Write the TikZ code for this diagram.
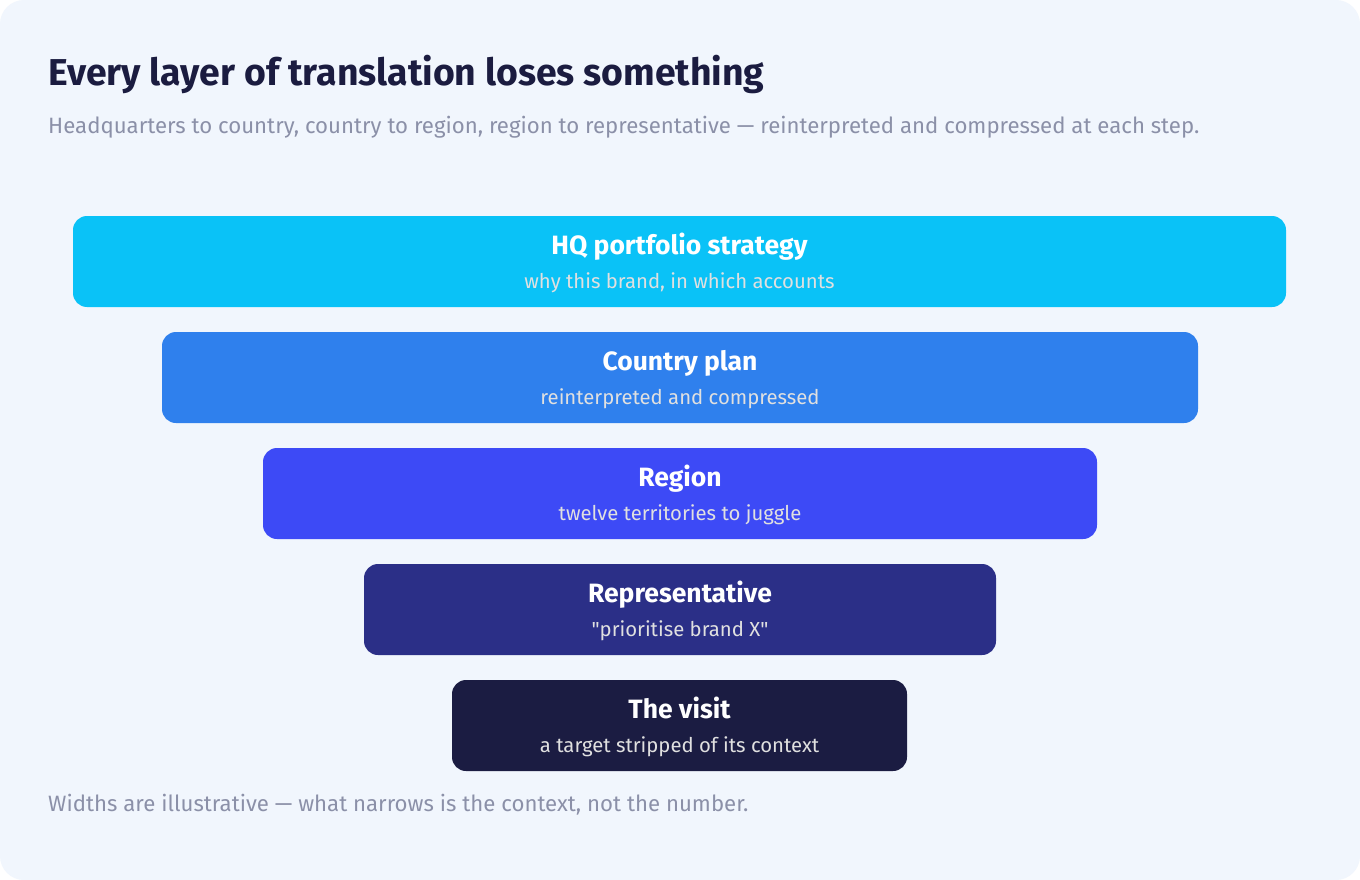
\documentclass[tikz,border=0pt]{standalone}
\usepackage{fontspec}
\setmainfont{Fira Sans}[Ligatures=TeXOff]
\usetikzlibrary{positioning}

\definecolor{pagebg}{HTML}{F1F6FD}
\definecolor{inkdark}{HTML}{1B1C40}
\definecolor{inkgray}{HTML}{8B90A8}
\definecolor{hqcol}{HTML}{0AC2F7}
\definecolor{countrycol}{HTML}{2F80ED}
\definecolor{regioncol}{HTML}{3D4AF6}
\definecolor{repcol}{HTML}{2B2F87}
\definecolor{visitcol}{HTML}{1B1C42}

\tikzset{
  layer/.style={rounded corners=14pt, minimum height=91pt, inner sep=0pt},
  layertitle/.style={anchor=base, text=white, font=\bfseries\fontsize{26.5}{30}\selectfont, inner sep=0pt},
  layersub/.style={anchor=base, text=white!88!black, font=\fontsize{20.3}{24}\selectfont, inner sep=0pt},
}

\begin{document}
\begin{tikzpicture}[x=1pt,y=-1pt]

% Background card
\fill[white] (0,0) rectangle (1360,880);
\fill[pagebg, rounded corners=24pt] (0,0) rectangle (1360,880);
\useasboundingbox (0,0) rectangle (1360,880);

% Heading
\node[anchor=base west, inner sep=0pt, text=inkdark, font=\bfseries\fontsize{37.4}{44}\selectfont] (title) at (48,86) {Every layer of translation loses something};
\node[anchor=base west, inner sep=0pt, text=inkgray, font=\fontsize{22.2}{26}\selectfont] (subtitle) at (48,134) {Headquarters to country, country to region, region to representative — reinterpreted and compressed at each step.};

% HQ layer
\node[layer, fill=hqcol, minimum width=1213pt] (hq) at (679.5,261.5) {};
\node[layertitle] (hqname) at ([yshift=7pt]hq.center) {HQ portfolio strategy};
\node[layersub] (hqnote) at ([yshift=-27pt]hq.center) {why this brand, in which accounts};

% Country layer
\node[layer, fill=countrycol, minimum width=1036pt] (country) at (680,377.5) {};
\node[layertitle] (countryname) at ([yshift=7pt]country.center) {Country plan};
\node[layersub] (countrynote) at ([yshift=-27pt]country.center) {reinterpreted and compressed};

% Region layer
\node[layer, fill=regioncol, minimum width=834pt] (region) at (680,493.5) {};
\node[layertitle] (regionname) at ([yshift=7pt]region.center) {Region};
\node[layersub] (regionnote) at ([yshift=-27pt]region.center) {twelve territories to juggle};

% Representative layer
\node[layer, fill=repcol, minimum width=632pt] (rep) at (680,609.5) {};
\node[layertitle] (repname) at ([yshift=7pt]rep.center) {Representative};
\node[layersub] (repnote) at ([yshift=-27pt]rep.center) {"prioritise brand X"};

% Visit layer
\node[layer, fill=visitcol, minimum width=455pt] (visit) at (679.5,725.5) {};
\node[layertitle] (visitname) at ([yshift=7pt]visit.center) {The visit};
\node[layersub] (visitnote) at ([yshift=-27pt]visit.center) {a target stripped of its context};

% Footnote
\node[anchor=base west, inner sep=0pt, text=inkgray, font=\fontsize{22.2}{26}\selectfont] (footnote) at (48,811) {Widths are illustrative — what narrows is the context, not the number.};

\end{tikzpicture}
\end{document}
